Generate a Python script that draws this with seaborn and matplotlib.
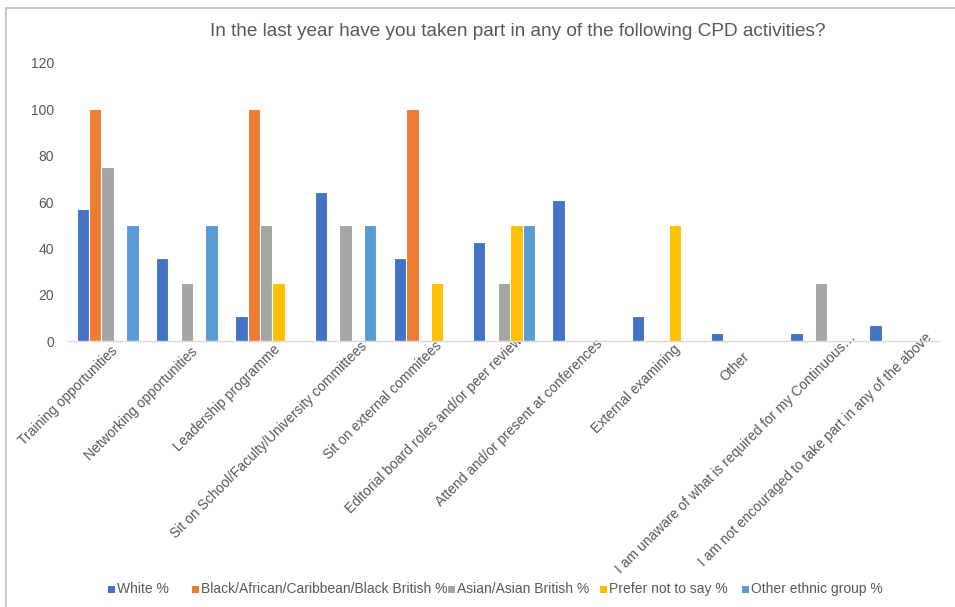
import numpy as np
import pandas as pd
import seaborn as sns
import matplotlib
matplotlib.use("Agg")
import matplotlib.pyplot as plt
import matplotlib.transforms as mtransforms
from matplotlib.patches import Rectangle

categories = [
    "Training opportunities",
    "Networking opportunities",
    "Leadership programme",
    "Sit on School/Faculty/University committees",
    "Sit on external commitees",
    "Editorial board roles and/or peer review",
    "Attend and/or present at conferences",
    "External examining",
    "Other",
    "I am unaware of what is required for my Continuous…",
    "I am not encouraged to take part in any of the above",
]
series_names = [
    "White %",
    "Black/African/Caribbean/Black British %",
    "Asian/Asian British %",
    "Prefer not to say %",
    "Other ethnic group %",
]
white = [57.1, 35.7, 10.7, 64.3, 35.7, 42.9, 60.7, 10.7, 3.6, 3.6, 7.1]
black = [100, np.nan, 100, np.nan, 100, np.nan, np.nan, np.nan, np.nan, np.nan, np.nan]
asian = [75, 25, 50, 50, np.nan, 25, np.nan, np.nan, np.nan, 25, np.nan]
prefer = [np.nan, np.nan, 25, np.nan, 25, 50, np.nan, 50, np.nan, np.nan, np.nan]
other = [50, 50, np.nan, 50, np.nan, 50, np.nan, np.nan, np.nan, np.nan, np.nan]
yticks = [0, 20, 40, 60, 80, 100, 120]
colors = ["#4472C4", "#ED7D31", "#A5A5A5", "#FFC000", "#5B9BD5"]

# style: per-label pixel nudges (dx right, dy up) mimicking the original layout
label_nudge = [(8, 3), (9, 2), (12, 5), (19, 8), (15, 8), (16, 13), (17, 10),
               (15, 5), (5, -2), (33, 17), (29, 17)]
# style: legend marker x positions (pixels)
legend_x = [111, 195, 451, 603, 745]

values = [white, black, asian, prefer, other]
rows = []
for name, vals in zip(series_names, values):
    for cat, v in zip(categories, vals):
        rows.append({"Activity": cat, "Group": name, "Value": v})
df = pd.DataFrame(rows)

sns.set_style("white")
plt.rcParams["font.family"] = ["Liberation Sans", "DejaVu Sans"]

W, H = 955, 607
fig = plt.figure(figsize=(W / 100, H / 100), dpi=100)
ax = fig.add_axes([68 / W, 1 - 341 / H, (940 - 68) / W, (341 - 63) / H])

sns.barplot(
    data=df, x="Activity", y="Value", hue="Group",
    order=categories, hue_order=series_names,
    palette=colors, saturation=1, width=0.78,
    edgecolor="white", linewidth=0.8, errorbar=None, ax=ax, legend=False,
)

ax.set_ylim(0, 120)
ax.set_yticks(yticks)
ax.set_yticklabels([str(t) for t in yticks], color="#595959", fontsize=10)
ax.set_xlim(-0.5, len(categories) - 0.5)
ax.set_xlabel("")
ax.set_ylabel("")
for s in ["top", "right", "left"]:
    ax.spines[s].set_visible(False)
ax.spines["bottom"].set_color("#D9D9D9")
ax.spines["bottom"].set_linewidth(1)
ax.tick_params(axis="both", length=0)
ax.tick_params(axis="y", pad=10)
ax.set_xticks(range(len(categories)))
ax.set_xticklabels(categories, rotation=45, ha="right", rotation_mode="anchor",
                   color="#595959", fontsize=10)
ax.tick_params(axis="x", pad=8)
for lbl, (dx, dy) in zip(ax.get_xticklabels(), label_nudge):
    lbl.set_va("center")
    off = mtransforms.ScaledTranslation(dx / 100, dy / 100, fig.dpi_scale_trans)
    lbl.set_transform(lbl.get_transform() + off)
ax.grid(False)

fig.text(518 / W, 1 - 31 / H,
         "In the last year have you taken part in any of the following CPD activities?",
         ha="center", va="center", fontsize=13.7, color="#595959")

# legend
ly = 1 - 589 / H
for x, c, name in zip(legend_x, colors, series_names):
    fig.patches.append(Rectangle(((x - 3.5) / W, ly - 3.5 / H), 7 / W, 7 / H,
                                 transform=fig.transFigure, facecolor=c,
                                 edgecolor="none"))
    fig.text((x + 6) / W, ly, name, ha="left", va="center", fontsize=10,
             color="#595959")

fig.patches.append(Rectangle((6 / W, -0.05), 1.2, 1 - 8 / H + 0.05,
                             transform=fig.transFigure, fill=False,
                             edgecolor="#BFBFBF", linewidth=1.2))

fig.savefig("out.png", dpi=100)
